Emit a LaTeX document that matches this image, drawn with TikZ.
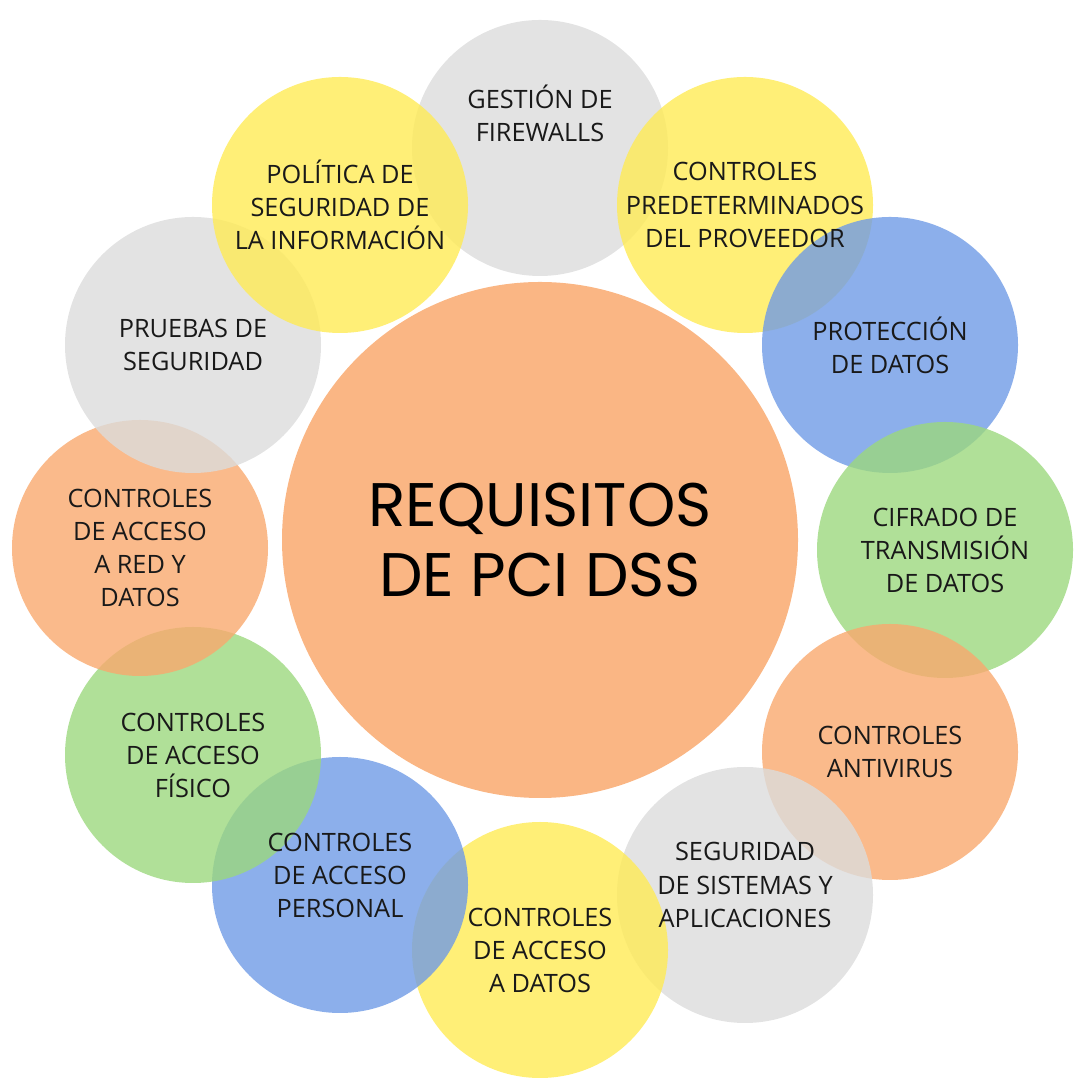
\documentclass[tikz,border=0pt]{standalone}
\usepackage{fontspec}
\setmainfont{Open Sans}
\newfontfamily\titlefont{Poppins}
\definecolor{cgray}{HTML}{DCDCDC}
\definecolor{cyellow}{HTML}{FFEB55}
\definecolor{cblue}{HTML}{6F9BE6}
\definecolor{cgreen}{HTML}{9CD87E}
\definecolor{corange}{HTML}{F9A96E}
\tikzstyle{reqcircle} = [circle, minimum size=2.56cm, inner sep=0pt, fill opacity=0.8]
\tikzstyle{reqlabel} = [align=center, font=\fontsize{7.2}{9.4}\selectfont, text=black!90]
\tikzstyle{maincircle} = [circle, fill=corange, fill opacity=0.85, text opacity=1, minimum size=5.16cm, align=center, font=\titlefont\fontsize{17.5}{20}\selectfont]

\begin{document}
\begin{tikzpicture}
	\useasboundingbox (0,0) rectangle (10.8,10.8);
	\node [maincircle] (main) at (5.4,5.4) {REQUISITOS\\DE PCI DSS};
	\foreach \x/\y/\c/\n in {
		5.40/9.32/cgray/gestion, 7.45/8.75/cyellow/predet,
		8.90/7.35/cblue/proteccion, 9.45/5.30/cgreen/cifrado,
		8.90/3.28/corange/antivirus, 7.45/1.85/cgray/sistemas,
		5.40/1.30/cyellow/datos, 3.40/1.95/cblue/personal,
		1.93/3.25/cgreen/fisico, 1.40/5.32/corange/red,
		1.93/7.35/cgray/pruebas, 3.40/8.75/cyellow/politica}
	{
		\node [reqcircle, fill=\c] (\n) at (\x,\y) {};
	}
	% labels on top of all circles
	\foreach \n/\t/\dy in {
		gestion/{GESTIÓN DE\\FIREWALLS}/0.35,
		predet/{CONTROLES\\PREDETERMINADOS\\DEL PROVEEDOR}/0,
		proteccion/{PROTECCIÓN\\DE DATOS}/0,
		cifrado/{CIFRADO DE\\TRANSMISIÓN\\DE DATOS}/0,
		antivirus/{CONTROLES\\ANTIVIRUS}/0,
		sistemas/{SEGURIDAD\\DE SISTEMAS Y\\APLICACIONES}/0.1,
		datos/{CONTROLES\\DE ACCESO\\A DATOS}/0,
		personal/{CONTROLES\\DE ACCESO\\PERSONAL}/0.1,
		fisico/{CONTROLES\\DE ACCESO\\FÍSICO}/0,
		red/{CONTROLES\\DE ACCESO\\A RED Y\\DATOS}/0,
		pruebas/{PRUEBAS DE\\SEGURIDAD}/0,
		politica/{POLÍTICA DE\\SEGURIDAD DE\\LA INFORMACIÓN}/0}
	{
		\node [reqlabel, yshift=\dy cm] at (\n) {\t};
	}
\end{tikzpicture}
\end{document}
